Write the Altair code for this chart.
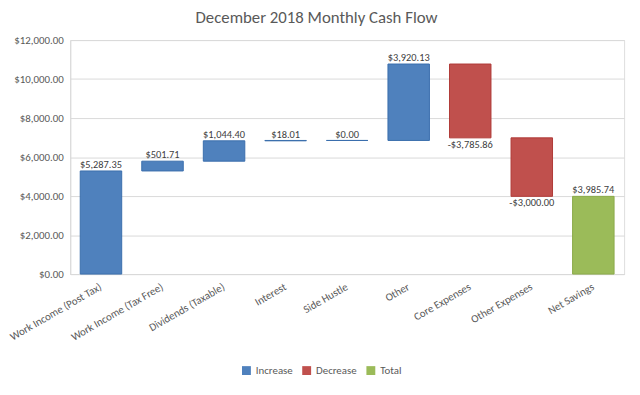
import altair as alt
import pandas as pd

categories = [
    "Work Income (Post Tax)", "Work Income (Tax Free)", "Dividends (Taxable)",
    "Interest", "Side Hustle", "Other", "Core Expenses", "Other Expenses", "Net Savings",
]
amounts = [5287.35, 501.71, 1044.40, 18.01, 0.00, 3920.13, -3785.86, -3000.00, 3985.74]
kinds = ["Increase"] * 6 + ["Decrease"] * 2 + ["Total"]
y_ticks = [0, 2000, 4000, 6000, 8000, 10000, 12000]

starts, ends, texts = [], [], []
running = 0.0
for a, k in zip(amounts, kinds):
    if k == "Total":
        starts.append(0.0)
        ends.append(a)
        running = a
    else:
        starts.append(running)
        running += a
        ends.append(running)
    texts.append(("-" if a < 0 else "") + "${:,.2f}".format(abs(a)))

df = pd.DataFrame({"cat": categories, "amount": amounts, "kind": kinds,
                   "start": starts, "end": ends, "label": texts})

FONT = "Carlito, Lato, 'Open Sans', sans-serif"

color = alt.Color("kind:N", title=None,
                  scale=alt.Scale(domain=["Increase", "Decrease", "Total"],
                                  range=["#4F81BD", "#C0504D", "#9BBB59"]),
                  legend=alt.Legend(orient="none", legendX=173, legendY=329,
                                    direction="horizontal", symbolType="square",
                                    symbolSize=81, symbolStrokeWidth=0,
                                    labelFontSize=11, labelColor="#595959",
                                    labelFont=FONT, columnPadding=8, labelOffset=4))

x_scale = alt.Scale(paddingInner=0.326, paddingOuter=0.163)
x_axis = alt.Axis(labelAngle=-30, labelAlign="right", labelBaseline="middle",
                  labelPadding=12, ticks=False, domainColor="#D9D9D9",
                  labelFontSize=11, labelColor="#595959", labelFont=FONT)
y_scale = alt.Scale(domain=[0, 12000], nice=False)
y_axis = alt.Axis(values=y_ticks, format="$,.2f", ticks=False, domainColor="#D9D9D9",
                  gridColor="#D9D9D9", labelPadding=7, labelFontSize=11,
                  labelColor="#595959", labelFont=FONT, labelOverlap=False)

x = alt.X("cat:N", sort=categories, title=None, scale=x_scale, axis=x_axis)

base = alt.Chart(df)

bars = base.mark_bar(strokeWidth=1).encode(
    x=x,
    y=alt.Y("start:Q", title=None, scale=y_scale, axis=y_axis),
    y2="end:Q",
    color=color,
    stroke=alt.Stroke("kind:N", scale=alt.Scale(domain=["Increase", "Decrease", "Total"],
                                                range=["#3A6EAD", "#B03A37", "#8AAA48"]),
                      legend=None),
)

y_end = alt.Y("end:Q", title=None, scale=y_scale, axis=y_axis)

up = base.transform_filter("datum.kind != 'Decrease'").mark_text(
    baseline="bottom", dy=-1, font=FONT, fontSize=10.5, color="#404040"
).encode(x=x, y=y_end, text="label:N")

down = base.transform_filter("datum.kind == 'Decrease'").mark_text(
    baseline="top", dy=2, font=FONT, fontSize=10.5, color="#404040"
).encode(x=x, y=y_end, text="label:N")

chart = alt.layer(bars, up, down).properties(
    width=561, height=237,
    title=alt.Title("December 2018 Monthly Cash Flow", fontSize=17, font=FONT,
                    fontWeight="normal", color="#595959", offset=7, dx=-31),
    autosize=alt.AutoSizeParams(type="none"),
    padding={"left": 63, "top": 30, "right": 8, "bottom": 120},
).configure_view(stroke=None).configure(background="white")

chart.save("out.html", embed_options={"renderer": "svg", "actions": False})
